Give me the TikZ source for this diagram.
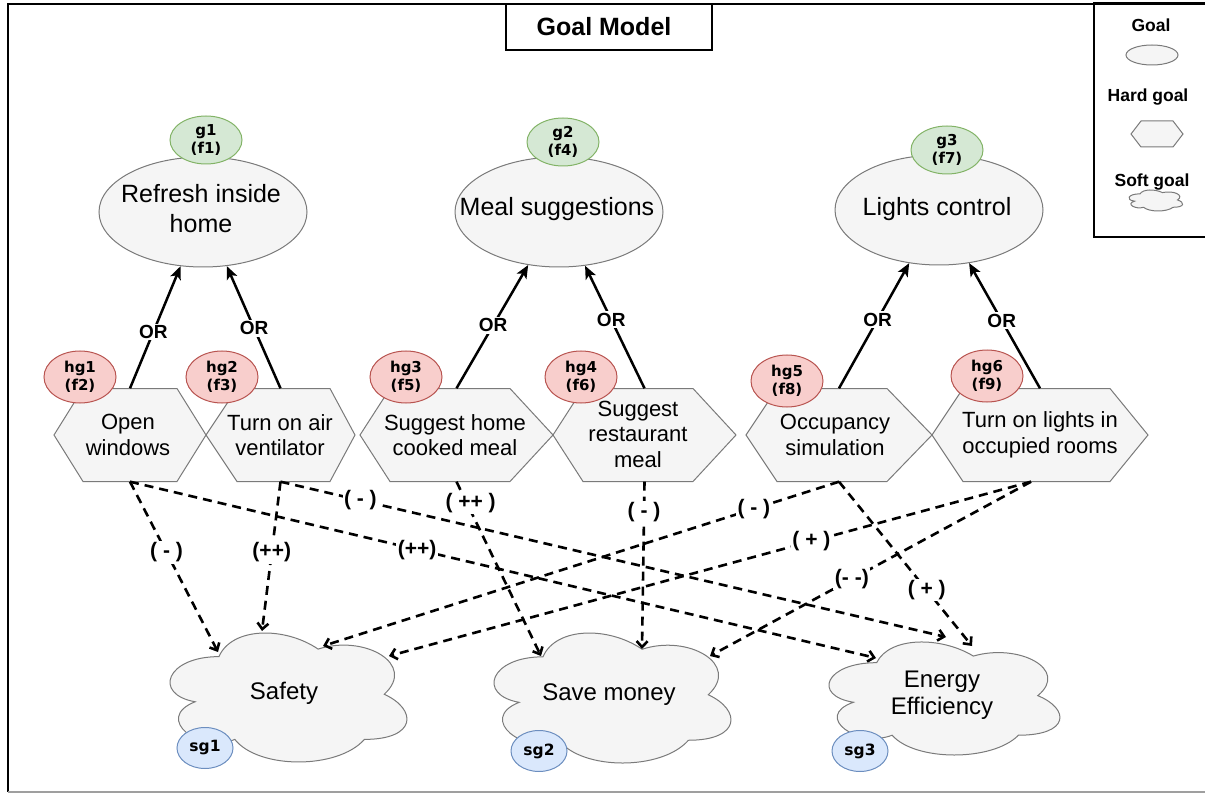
\documentclass[tikz,border=0pt]{standalone}
\usepackage{fontspec}
\setmainfont{Liberation Sans}
\newfontfamily\tagfont{DejaVu Sans}
\usetikzlibrary{arrows.meta,shapes.geometric,calc}

\definecolor{shapefill}{HTML}{F5F5F5}
\definecolor{shapeline}{HTML}{7A7A7A}
\definecolor{gfill}{HTML}{D5E8D4}\definecolor{gline}{HTML}{82B366}
\definecolor{rfill}{HTML}{F8CECC}\definecolor{rline}{HTML}{B85450}
\definecolor{bfill}{HTML}{DAE8FC}\definecolor{bline}{HTML}{6C8EBF}

% hexagon outline: left x, right x, top y, bottom y, left inset, right inset
\newcommand\hexoutline[6]{%
  \path[shapestyle] (#1,{(#3+#4)/2}) -- ({#1+#5},#3) -- ({#2-#6},#3)
    -- (#2,{(#3+#4)/2}) -- ({#2-#6},#4) -- ({#1+#5},#4) -- cycle;}

% cloud outline inside the box: left x, top y, width, height
\newcommand\cloudoutline[4]{%
  \path[shapestyle, shift={(#1,#2)}, xscale=#3, yscale=#4]
    (0.25,0.25) .. controls (0.05,0.25) and (0,0.5) .. (0.16,0.55)
    .. controls (0,0.66) and (0.18,0.9) .. (0.31,0.8)
    .. controls (0.4,1) and (0.7,1) .. (0.8,0.8)
    .. controls (1,0.8) and (1,0.6) .. (0.875,0.5)
    .. controls (1,0.3) and (0.8,0.1) .. (0.625,0.2)
    .. controls (0.5,0.05) and (0.3,0.05) .. (0.25,0.25) -- cycle;}

\tikzset{
  shapestyle/.style={fill=shapefill, draw=shapeline, line width=1pt},
  goalshape/.style={shapestyle, ellipse, inner sep=0pt, minimum width=208pt, minimum height=110pt},
  goaltext/.style={font=\fontsize{25}{30}\selectfont, align=center, inner sep=0pt},
  hexbox/.style={rectangle, inner sep=0pt, minimum height=93pt},
  hextext/.style={font=\fontsize{22}{25.5}\selectfont, align=center, inner sep=0pt},
  softbox/.style={rectangle, inner sep=0pt},
  softtext/.style={font=\fontsize{24}{27.5}\selectfont, align=center, inner sep=0pt},
  badge/.style={ellipse, inner sep=0pt, line width=1pt},
  gbadge/.style={badge, fill=gfill, draw=gline, minimum width=72pt, minimum height=48pt},
  rbadge/.style={badge, fill=rfill, draw=rline, minimum width=72pt, minimum height=52pt},
  bbadge/.style={badge, fill=bfill, draw=bline, minimum width=56pt, minimum height=41pt},
  badgetext/.style={font=\tagfont\bfseries\fontsize{15}{17.5}\selectfont, align=center, inner sep=0pt},
  sgtext/.style={font=\tagfont\bfseries\fontsize{15.5}{18}\selectfont, inner sep=0pt},
  orarrow/.style={line width=2.5pt, -{Stealth[length=13pt, width=11pt, inset=3pt]}},
  orlabel/.style={font=\bfseries\fontsize{19}{22}\selectfont, fill=white, inner sep=1.5pt},
  influence/.style={line width=2.6pt, dash pattern=on 9pt off 6pt,
    -{Straight Barb[length=6pt, width=11pt]}},
  inflabel/.style={font=\bfseries\fontsize{21}{24}\selectfont, fill=white, inner sep=1.5pt},
  legendtext/.style={font=\bfseries\fontsize{17.5}{20}\selectfont, inner sep=0pt},
  titlebox/.style={draw, line width=1.8pt, minimum width=206pt, minimum height=46pt,
    inner sep=0pt}
}

\begin{document}
\begin{tikzpicture}[x=1pt, y=-1pt]
\useasboundingbox (0,0) rectangle (1205,794);

% outer frame
\draw[line width=2.5pt] (1210,4) -- (8,4) -- (8,792);
\draw[gray!75, line width=2pt] (8,792) -- (1210,792);

% title
\node[titlebox, fill=white] (title) at (609,27) {};
\node[font=\bfseries\fontsize{25}{28}\selectfont, inner sep=0pt] (titletext) at (604,27) {Goal Model};

% legend
\draw[line width=2.5pt] (1215,3) -- (1094,3) -- (1094,237) -- (1215,237);
\node[legendtext] (lgoal) at (1151,25) {Goal};
\node[shapestyle, ellipse, inner sep=0pt, minimum width=52pt, minimum height=20pt] (lgoalshape) at (1152,55) {};
\node[legendtext] (lhard) at (1148,97) {Hard goal};
\hexoutline{1131}{1183}{121}{147}{10}{10}
\node[legendtext] (lsoft) at (1152,182) {Soft goal};
\cloudoutline{1125}{187.7}{60}{24.5}

% goals
\node[goalshape] (g1) at (203,212) {};
\node[goaltext] (g1t) at (201,209) {Refresh inside\\home};
\node[goalshape] (g2) at (559,212) {};
\node[goaltext] (g2t) at (557,209) {Meal suggestions};
\node[goalshape] (g3) at (939,210) {};
\node[goaltext] (g3t) at (937,209) {Lights control};

\node[gbadge] (b1) at (206,140) {};
\node[badgetext] at (b1) {g1\\(f1)};
\node[gbadge] (b2) at (563,142) {};
\node[badgetext] at (b2) {g2\\(f4)};
\node[gbadge] (b3) at (947,150) {};
\node[badgetext] at (b3) {g3\\(f7)};

% hard goals
\hexoutline{54}{206}{388.5}{481.5}{29}{29}
\node[hexbox, minimum width=152pt] (h1) at (130,435) {};
\node[hextext] (h1t) at (128,435) {Open\\windows};
\hexoutline{206}{355}{388.5}{481.5}{31}{25}
\node[hexbox, minimum width=149pt] (h2) at (280.5,435) {};
\node[hextext] (h2t) at (280,435) {Turn on air\\ventilator};
\hexoutline{360}{553}{388.5}{481.5}{30}{43}
\node[hexbox, minimum width=193pt] (h3) at (456.5,435) {};
\node[hextext] (h3t) at (455,435) {Suggest home\\cooked meal};
\hexoutline{553}{736}{388.5}{481.5}{30}{43}
\node[hexbox, minimum width=183pt] (h4) at (644.5,435) {};
\node[hextext] (h4t) at (638,434) {Suggest\\restaurant\\meal};
\hexoutline{746}{932}{388.5}{481.5}{31}{45}
\node[hexbox, minimum width=186pt] (h5) at (839,435) {};
\node[hextext] (h5t) at (835,435) {Occupancy\\simulation};
\hexoutline{932}{1148}{388.5}{481.5}{31}{38}
\node[hexbox, minimum width=216pt] (h6) at (1040,435) {};
\node[hextext] (h6t) at (1040,435) {Turn on lights in\\occupied rooms};

\node[rbadge] (hb1) at (80,377) {};
\node[badgetext] at (hb1) {hg1\\(f2)};
\node[rbadge] (hb2) at (222,377) {};
\node[badgetext] at (hb2) {hg2\\(f3)};
\node[rbadge] (hb3) at (406,377) {};
\node[badgetext] at (hb3) {hg3\\(f5)};
\node[rbadge] (hb4) at (581,377) {};
\node[badgetext] at (hb4) {hg4\\(f6)};
\node[rbadge] (hb5) at (787,381) {};
\node[badgetext] at (hb5) {hg5\\(f8)};
\node[rbadge] (hb6) at (987,376) {};
\node[badgetext] at (hb6) {hg6\\(f9)};

% OR refinements
\draw[orarrow] (h1.north) -- node[orlabel, pos=.46] {OR} (g1);
\draw[orarrow] (h2.north) -- node[orlabel, pos=.49] {OR} (g1);
\draw[orarrow] (h3.north) -- node[orlabel, pos=.51] {OR} (g2);
\draw[orarrow] (h4.north) -- node[orlabel, pos=.56] {OR} (g2);
\draw[orarrow] (h5.north) -- node[orlabel, pos=.55] {OR} (g3);
\draw[orarrow] (h6.north) -- node[orlabel, pos=.54] {OR} (g3);

% soft goals
\cloudoutline{152.8}{619}{264.5}{150.5}
\node[softbox, minimum width=264.5pt, minimum height=150.5pt] (s1) at (285,694.25) {};
\node[softtext] (s1t) at (284,693) {Safety};
\cloudoutline{476.8}{618.9}{264.5}{151.7}
\node[softbox, minimum width=264.5pt, minimum height=151.7pt] (s2) at (609,694.75) {};
\node[softtext] (s2t) at (609,695) {Save money};
\cloudoutline{812.2}{629.7}{257.8}{131.9}
\node[softbox, minimum width=257.8pt, minimum height=131.9pt] (s3) at (941.1,695.65) {};
\node[softtext] (s3t) at (942,695) {Energy\\Efficiency};

\node[bbadge] (sb1) at (205,748) {};
\node[sgtext] at (sb1) {sg1};
\node[bbadge] (sb2) at (539,751) {};
\node[sgtext] at (sb2) {sg2};
\node[bbadge] (sb3) at (860,751) {};
\node[sgtext] at (sb3) {sg3};

% contribution end points on the soft goal outlines
\coordinate (s1a) at (218,652);
\coordinate (s1b) at (262,631);
\coordinate (s1c) at (323,646);
\coordinate (s1d) at (389,656);
\coordinate (s2a) at (541,656);
\coordinate (s2b) at (642,649);
\coordinate (s2c) at (710,656);
\coordinate (s3a) at (876,658);
\coordinate (s3b) at (946,637);
\coordinate (s3c) at (972,646);
\coordinate (h6out) at ($(h6.south)+(-9,0)$);

% contributions
\draw[influence] (h1.south) -- node[inflabel, pos=.415] {( - )} (s1a);
\draw[influence] (h2.south) -- node[inflabel, pos=.473] {(++)} (s1b);
\draw[influence] (h1.south) -- node[inflabel, pos=.385] {(++)} (s3a);
\draw[influence] (h2.south) -- node[inflabel, pos=.12] {( - )} (s3b);
\draw[influence] (h3.south) -- node[inflabel, pos=.12, xshift=4pt] {( ++ )} (s2a);
\draw[influence] (h4.south) -- node[inflabel, pos=.18] {( - )} (s2b);
\draw[influence] (h5.south) -- node[inflabel, pos=.165] {( - )} (s1c);
\draw[influence] (h6out) -- node[inflabel, pos=.342] {( + )} (s1d);
\draw[influence] (h6out) -- node[inflabel, pos=.558] {(- -)} (s2c);
\draw[influence] (h5.south) -- node[inflabel, pos=.66] {( + )} (s3c);
\end{tikzpicture}
\end{document}
